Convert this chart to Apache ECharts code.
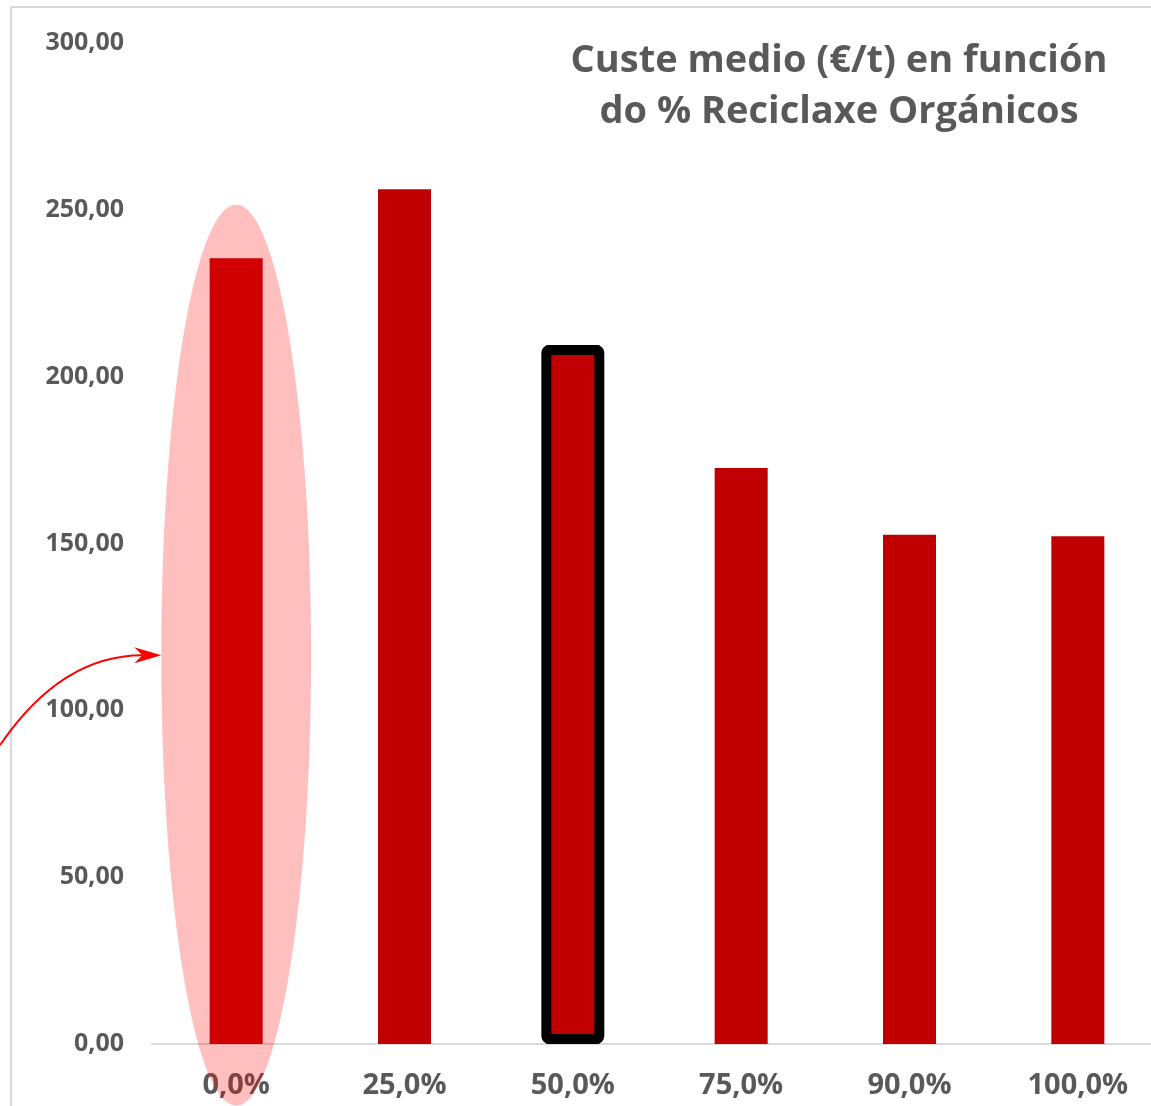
<!DOCTYPE html>
<html>
<head>
<meta charset="utf-8">
<script src="https://cdn.jsdelivr.net/npm/echarts@6/dist/echarts.min.js"></script>
<style>
html,body{margin:0;padding:0;background:#fff;}
#chart{width:1151px;height:1106px;}
</style>
</head>
<body>
<div id="chart"></div>
<script>
const categories = ['0,0%', '25,0%', '50,0%', '75,0%', '90,0%', '100,0%'];
const costValues = [235.5, 256.2, 209.5, 172.6, 152.6, 152.2];
const yTicks = [0, 50, 100, 150, 200, 250, 300];
const titleLines = ['Custe medio (€/t) en función', 'do % Reciclaxe Orgánicos'];
const highlightIndex = 2;   // bar outlined in black
const circledIndex = 0;     // bar circled by the ellipse

const FONT = '"Open Sans", "DejaVu Sans", sans-serif';
const GREY = '#595959';

const chart = echarts.init(document.getElementById('chart'), null, {renderer: 'canvas'});

const highlightData = costValues.map((v, i) => i === highlightIndex ? v : '-');

chart.setOption({
  animation: false,
  backgroundColor: '#ffffff',
  grid: {left: 152, width: 1010, top: 43, bottom: 62, containLabel: false, outerBoundsMode: 'none'},
  xAxis: [{
    type: 'category',
    data: categories,
    axisLine: {show: true, lineStyle: {color: '#D9D9D9', width: 2}},
    axisTick: {show: false},
    axisLabel: {color: GREY, fontFamily: FONT, fontWeight: 'bold', fontSize: 29, margin: 27}
  }, {
    type: 'category',
    data: categories,
    show: false
  }],
  yAxis: {
    type: 'value',
    min: yTicks[0],
    max: yTicks[yTicks.length - 1],
    interval: 50,
    axisLine: {show: false},
    axisTick: {show: false},
    splitLine: {show: false},
    axisLabel: {
      color: GREY, fontFamily: FONT, fontWeight: 'bold', fontSize: 25, margin: 28,
      formatter: v => v.toFixed(2).replace('.', ',')
    }
  },
  series: [{
    type: 'bar',
    xAxisIndex: 0,
    data: costValues,
    barWidth: '31.5%',
    itemStyle: {color: '#C00000'},
    z: 2
  }, {
    type: 'bar',
    xAxisIndex: 1,
    data: highlightData,
    barWidth: '37.4%',
    itemStyle: {color: '#C00000', borderColor: '#000000', borderWidth: 10, borderRadius: 3},
    z: 3
  }]
});

// Annotations positioned from the axes
const c0 = chart.convertToPixel({xAxisIndex: 0}, circledIndex);
const c1 = chart.convertToPixel({xAxisIndex: 0}, circledIndex + 1);
const band = c1 - c0;
const yTop = chart.convertToPixel({yAxisIndex: 0}, 251.5);
const yBot = chart.convertToPixel({yAxisIndex: 0}, -18.5);
const rx = band * 0.445;
const ry = (yBot - yTop) / 2;
const cy = (yBot + yTop) / 2;
const tipX = c0 - rx;
const tipY = cy;
const startX = 0, startY = tipY + 90;
const ctrlX = tipX * 0.38, ctrlY = tipY;

// arrowhead direction: from control point toward tip
const ang = Math.atan2(tipY - ctrlY, tipX - ctrlX);
const L = 27, W = 8;
const bx = tipX - L * Math.cos(ang), by = tipY - L * Math.sin(ang);
const nx = -Math.sin(ang), ny = Math.cos(ang);
const mx = tipX - L * 0.7 * Math.cos(ang), my = tipY - L * 0.7 * Math.sin(ang);

chart.setOption({
  graphic: [
    {type: 'rect', z: 0, silent: true,
     shape: {x: 11, y: 7, width: 1300, height: 1300},
     style: {fill: null, stroke: '#D9D9D9', lineWidth: 2}},
    {type: 'text', z: 50, silent: true, x: 839, y: 36,
     style: {text: titleLines.join('\n'), align: 'center', verticalAlign: 'top',
             font: 'bold 38px ' + FONT, lineHeight: 51, fill: GREY}},
    {type: 'ellipse', z: 100, silent: true,
     shape: {cx: c0, cy: cy, rx: rx, ry: ry},
     style: {fill: 'rgba(255,0,0,0.25)', stroke: null}},
    {type: 'bezierCurve', z: 101, silent: true,
     shape: {x1: startX, y1: startY, cpx1: ctrlX, cpy1: ctrlY, x2: mx, y2: my},
     style: {stroke: '#FF0000', lineWidth: 2, fill: null}},
    {type: 'polygon', z: 101, silent: true,
     shape: {points: [[tipX, tipY], [bx + nx * W, by + ny * W], [mx, my], [bx - nx * W, by - ny * W]]},
     style: {fill: '#FF0000', stroke: null}}
  ]
});
</script>
</body>
</html>
